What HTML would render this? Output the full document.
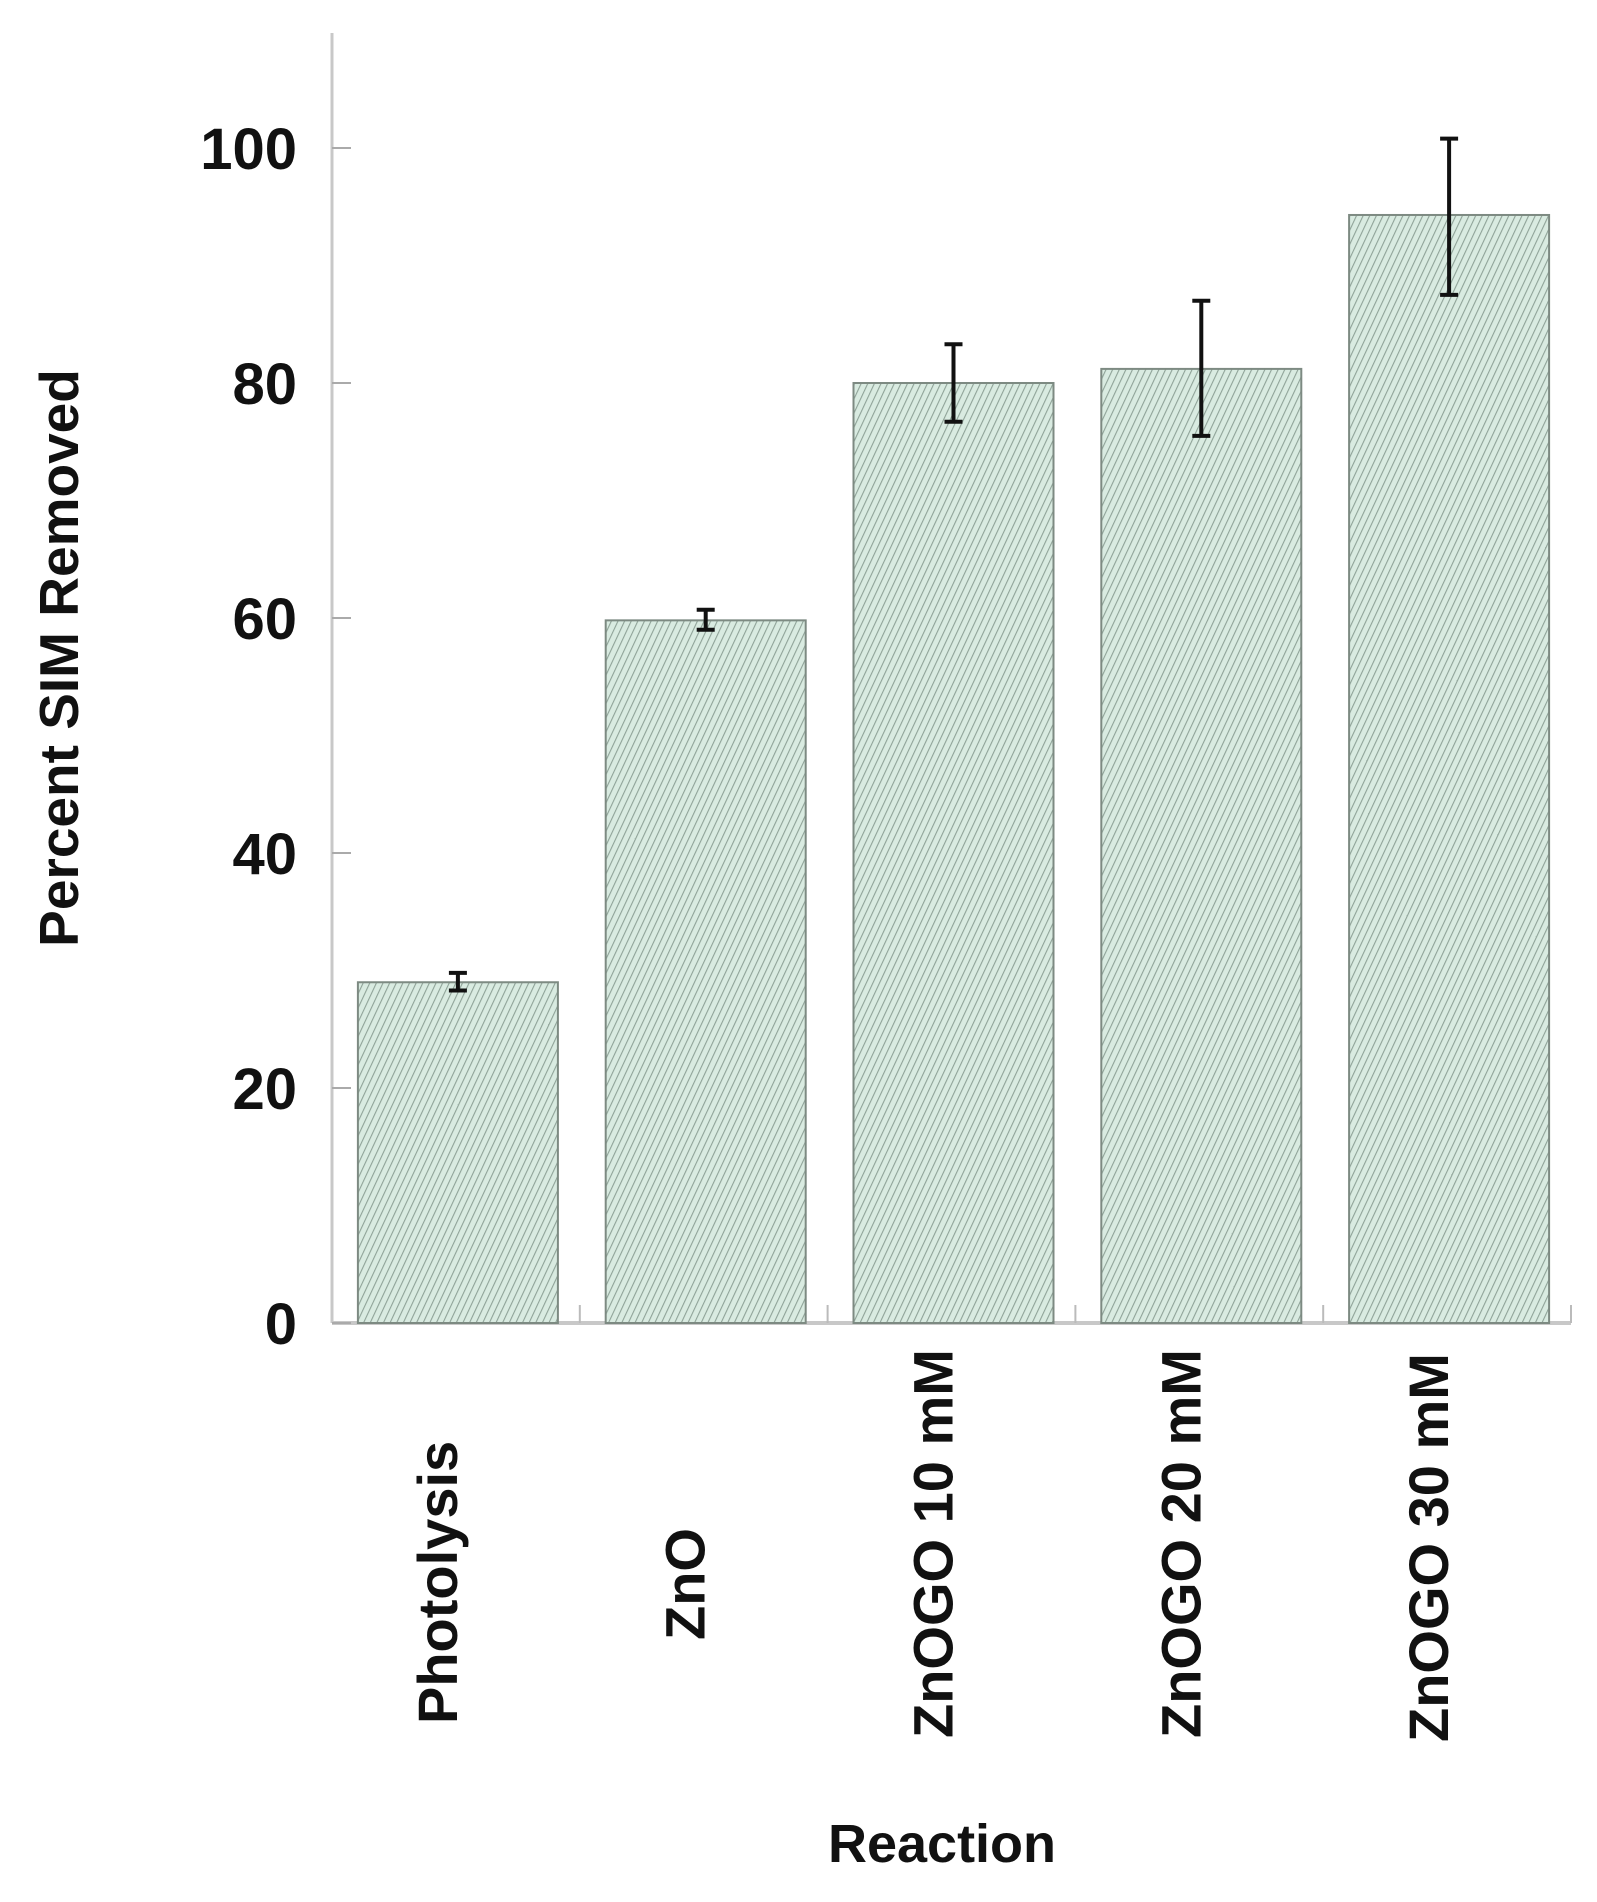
<!DOCTYPE html>
<html><head><meta charset="utf-8"><style>html,body{margin:0;padding:0;background:#fff}svg{display:block}</style></head>
<body>
<svg id="chart" width="1597" height="1902" xmlns="http://www.w3.org/2000/svg" font-family="'Liberation Sans', sans-serif" font-weight="bold">
<defs>
<pattern id="hatch" width="6" height="6" patternUnits="userSpaceOnUse" patternTransform="rotate(25)">
<rect width="6" height="6" fill="#d9ebe1"/>
<line x1="0" y1="0" x2="0" y2="6" stroke="#8fa398" stroke-width="2.2"/>
</pattern>
</defs>
<g id="plot"></g>
<text transform="translate(78,658) rotate(-90)" text-anchor="middle" font-size="55" fill="#111">Percent SIM Removed</text>
<text x="942" y="1862" text-anchor="middle" font-size="54" fill="#111">Reaction</text>
</svg>
<script>
const categories = ["Photolysis","ZnO","ZnOGO 10 mM","ZnOGO 20 mM","ZnOGO 30 mM"];
const values = [29, 59.8, 80, 81.2, 94.3];
const errLow = [28.3, 59.0, 76.7, 75.5, 87.5];
const errHigh = [29.8, 60.7, 83.3, 87.0, 100.8];
const yTicks = [0, 20, 40, 60, 80, 100];
const labelEnds = [1724, 1640, 1738, 1738, 1742];

const NS = "http://www.w3.org/2000/svg";
const g = document.getElementById("plot");
const x0 = 332, x1 = 1571, y0 = 1323, yTop = 33;
const pxPer = 235/20;
const yS = v => y0 - v*pxPer;
const slot = (x1 - x0)/categories.length;
const xC = i => x0 + slot*(i+0.5) + 2;
const bw = 200;
function mk(t, a){const e=document.createElementNS(NS,t);for(const k in a)e.setAttribute(k,a[k]);g.appendChild(e);return e;}

let e = mk("line",{x1:x0,y1:yTop,x2:x0,y2:y0,stroke:"#c8c8c8","stroke-width":3});


e = mk("line",{x1:x0,y1:y0,x2:x1,y2:y0,stroke:"#c8c8c8","stroke-width":4});



yTicks.forEach(v=>{
  const y=yS(v);
  let t=mk("line",{x1:x0,y1:y,x2:x0+19,y2:y,stroke:"#aaa","stroke-width":2});
  
  
  let l=mk("text",{x:297,y:y+21,"text-anchor":"end","font-size":58,fill:"#111"});
  l.textContent=v;
  
  
});

categories.forEach((c,i)=>{
  const tx = x0 + slot*(i+1);
  let t=mk("line",{x1:tx,y1:y0,x2:tx,y2:y0-18,stroke:"#bbb","stroke-width":2});
  
  
  const cx=xC(i);
  let b=mk("rect",{x:cx-bw/2,y:yS(values[i]),width:bw,height:y0-yS(values[i]),fill:"url(#hatch)",stroke:"#7d8a82","stroke-width":2});
  
  
  const yl=yS(errLow[i]), yh=yS(errHigh[i]);
  let el=mk("path",{d:`M${cx},${yl}V${yh}M${cx-9},${yl}H${cx+9}M${cx-9},${yh}H${cx+9}`,stroke:"#111","stroke-width":4,fill:"none"});
  
  
  let lab=mk("text",{transform:`translate(${cx-1},${labelEnds[i]}) rotate(-90)`,"font-size":56,fill:"#111"});
  lab.textContent=c;
  
  
});
</script>
</body></html>
